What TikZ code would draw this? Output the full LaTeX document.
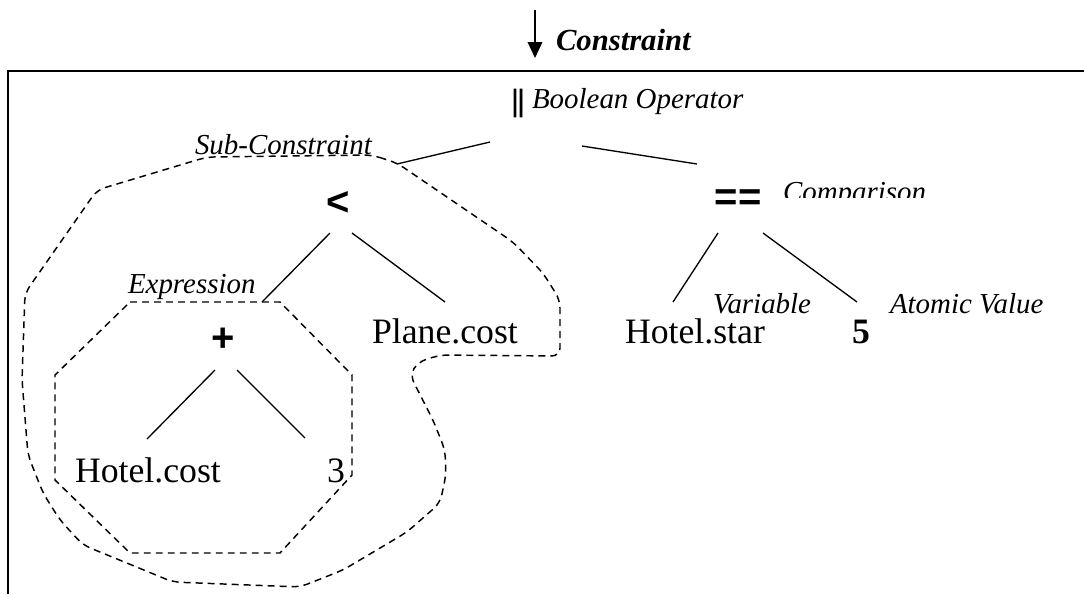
\documentclass[tikz,border=0pt]{standalone}
\usepackage{fontspec}
\usepackage{graphicx}
\setmainfont{Liberation Serif}
\newfontfamily\opfont{Liberation Sans}
\newfontfamily\barfont[FakeBold=4]{Liberation Sans}
\usetikzlibrary{arrows.meta}
\begin{document}
\begin{tikzpicture}[x=0.75pt,y=-0.75pt,
  every node/.style={inner sep=0pt,outer sep=0pt},
  term/.style={anchor=base west,font=\fontsize{26.8}{30}\selectfont},
  lbl/.style={anchor=base west,font=\fontsize{21.7}{24}\selectfont\itshape},
  opr/.style={anchor=center,font=\fontsize{30}{34}\selectfont\opfont\bfseries},
  edge/.style={line width=1pt},
  region/.style={line width=1.1pt,dash pattern=on 5.2pt off 3.8pt,line join=round},
  frame/.style={line width=1.5pt}]
\useasboundingbox (0,0) rectangle (1084,594);

% frame
\coordinate (fl) at (8,594);
\coordinate (fc) at (8,71);
\coordinate (fr) at (1084,71);
\draw[frame] (fl) -- (fc) -- (fr);

% incoming arrow and title
\coordinate (ain) at (535,10);
\coordinate (aout) at (535,58);
\draw[line width=1pt,-{Triangle[width=11pt,length=12pt]}] (ain) -- (aout);
\node[anchor=base west,font=\fontsize{23}{26}\selectfont\bfseries\itshape] (title) at (556,50) {Constraint};

% operators
\node[opr,font=\fontsize{22}{26}\selectfont\barfont] (or) at (518,103) {\scalebox{0.8}[1]{||}};
\node[opr] (lt) at (338,203) {<};
\node[opr] (eq) at (738,200) {==};
\node[opr] (plus) at (223,340) {+};

% operands
\node[term] (plane) at (372,343) {Plane.cost};
\node[term] (star) at (625,343) {Hotel.star};
\node[term,font=\fontsize{26.8}{30}\selectfont\bfseries] (five) at (852,343) {5};
\node[term] (hcost) at (75,482) {Hotel.cost};
\node[term] (three) at (327,482) {3};

% labels
\node[lbl] (boolop) at (532,108) {Boolean Operator};
\node[lbl] (subc) at (195,154) {Sub-Constraint};
\begin{scope}
  \clip (770,150) rectangle (1000,197);
  \node[lbl] (comp) at (783,201) {Comparison};
\end{scope}
\node[lbl] (expr) at (128,293) {Expression};
\node[lbl] (var) at (713,313) {Variable};
\node[lbl] (atom) at (890,313) {Atomic Value};

% tree edges
\coordinate (or-l) at (490,142); \coordinate (lt-t) at (397,164);
\coordinate (or-r) at (582,146); \coordinate (eq-t) at (697,164);
\coordinate (lt-l) at (330,233); \coordinate (plus-t) at (262,302);
\coordinate (lt-r) at (352,233); \coordinate (plane-t) at (445,302);
\coordinate (plus-l) at (215,370); \coordinate (hcost-t) at (147,439);
\coordinate (plus-r) at (237,370); \coordinate (three-t) at (305,438);
\coordinate (eq-l) at (718,233); \coordinate (star-t) at (673,302);
\coordinate (eq-r) at (763,233); \coordinate (five-t) at (857,302);
\draw[edge] (or-l) -- (lt-t);
\draw[edge] (or-r) -- (eq-t);
\draw[edge] (lt-l) -- (plus-t);
\draw[edge] (lt-r) -- (plane-t);
\draw[edge] (plus-l) -- (hcost-t);
\draw[edge] (plus-r) -- (three-t);
\draw[edge] (eq-l) -- (star-t);
\draw[edge] (eq-r) -- (five-t);

% expression region
\draw[region] (130,302) -- (280,302) -- (352,375) -- (352,475) -- (280,553)
  -- (130,553) -- (55,480) -- (55,375) -- cycle;

% sub-constraint region
\draw[region,rounded corners=6pt] (372,155) -- (397,163) -- (513,242) -- (543,273)
  -- (560,300) -- (560,356) -- (440,355) -- (418,362) -- (410,375) -- (433,420)
  -- (445,450) -- (446,475) -- (440,503) -- (407,532) -- (343,570) -- (300,587)
  -- (173,582) -- (83,545) -- (60,520) -- (43,493) -- (28,455) -- (22,380)
  -- (25,293) -- (97,190) -- (207,157) -- cycle;
\end{tikzpicture}
\end{document}
